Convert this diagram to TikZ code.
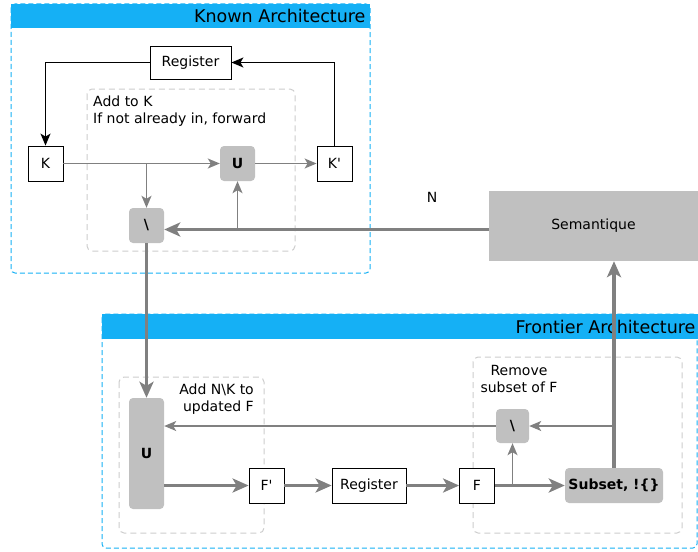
\documentclass[tikz,border=0pt]{standalone}
\usepackage{fontspec}
\setmainfont{DejaVu Sans}
\usetikzlibrary{positioning}
\usetikzlibrary{arrows.meta}
\definecolor{headblue}{RGB}{21,176,245}
\definecolor{opgray}{RGB}{192,192,192}
\definecolor{linegray}{RGB}{128,128,128}
\definecolor{zonegray}{RGB}{205,205,205}

\begin{document}
\begin{tikzpicture}[x=1pt, y=-1pt, font=\fontsize{14}{17}\selectfont,
	reg/.style={draw=black, fill=white, line width=0.8pt, minimum width=35pt, minimum height=35pt, inner sep=0pt},
	op/.style={fill=opgray, rounded corners=4pt, minimum width=35pt, minimum height=35pt, inner sep=0pt, font=\fontsize{14}{17}\selectfont\bfseries},
	zone/.style={draw=zonegray, line width=1pt, dash pattern=on 6pt off 4pt, rounded corners=5pt},
	frame/.style={draw=headblue, line width=1pt, dash pattern=on 5pt off 3pt, rounded corners=4pt},
	thinarr/.style={draw=linegray, line width=1.4pt, -{Stealth[length=12pt, width=10pt, inset=3pt]}},
	thickarr/.style={draw=linegray, line width=3.5pt, -{Stealth[length=16pt, width=14pt, inset=4pt]}},
	blackarr/.style={draw=black, line width=1.3pt, -{Stealth[length=12pt, width=10pt, inset=3pt]}}]
	\useasboundingbox (0,0) rectangle (698,551);
			    		% known architecture
			    		\draw[frame] (11,4) rectangle (370,273);
			    		\fill[headblue] (11,4) rectangle (370,28);
			    		\node[anchor=east, font=\fontsize{17.5}{20}\selectfont] (ktitle) at (369,16) {Known Architecture};
			    		\draw[zone] (87,89) rectangle (295,251);
			    		\node[anchor=north west, align=left, inner sep=0pt] (addk) at (93,96) {Add to K\\If not already in, forward};
			    		\node[reg, minimum width=81pt, minimum height=33pt] (kreg) at (190.5,62.5) {Register};
			    		\node[reg] (K) at (45.5,163.5) {K};
			    		\node[reg] (Kp) at (334.5,163.5) {K\textquotesingle};
			    		\node[op] (kunion) at (237.5,163.5) {U};
			    		\node[op] (kminus) at (146.5,225.5) {\textbackslash};
			    		\node[fill=opgray, minimum width=209pt, minimum height=70pt, inner sep=0pt] (sem) at (593.5,226) {Semantique};
			    		\node (nlabel) at (432,197) {N};
			    		% frontier architecture
			    		\draw[frame] (102,314) rectangle (697,548);
			    		\fill[headblue] (102,314) rectangle (698,339);
			    		\node[anchor=east, font=\fontsize{17.5}{20}\selectfont] (ftitle) at (699,327) {Frontier Architecture};
			    		\draw[zone] (119,377) rectangle (264,533);
			    		\draw[zone] (473,357) rectangle (682,533);
			    		\node[anchor=north east, align=right, inner sep=0pt] (addn) at (254,384) {Add N\textbackslash K to\\updated F};
			    		\node[anchor=north, align=center, inner sep=0pt] (remove) at (519,365) {Remove\\subset of F};
			    		\node[op, minimum height=111pt] (funion) at (146.5,453.5) {U};
			    		\node[reg] (Fp) at (266.5,485.5) {F\textquotesingle};
			    		\node[reg, minimum width=74pt] (freg) at (369,485.5) {Register};
			    		\node[reg] (F) at (477,485.5) {F};
			    		\node[op, minimum width=98pt] (subset) at (614,485.5) {Subset, !\{\}};
			    		\node[op, minimum width=33pt, minimum height=34pt] (fminus) at (512.5,426) {\textbackslash};
			    		% known connectors
			    		\draw[blackarr] (Kp.north) |- (kreg.east);
			    		\draw[blackarr] (kreg.west) -| (K.north);
			    		\draw[thinarr] (K.east) -- (kunion.west);
			    		\draw[thinarr] (kunion.east) -- (Kp.west);
			    		\coordinate (kfork) at (kminus.north |- K.east);
			    		\draw[thinarr] (kfork) -- (kminus.north);
			    		\coordinate (nline) at (489,229.5);
			    		\draw[thickarr] (nline) -- (nline -| kminus.east);
			    		\coordinate (ufork) at (kunion.south |- nline);
			    		\draw[thinarr] (ufork) -- (kunion.south);
			    		\draw[thickarr] (kminus.south) -- (funion.north);
			    		% frontier connectors
			    		\draw[thickarr] (Fp.west -| funion.east) -- (Fp.west);
			    		\draw[thickarr] (Fp.east) -- (freg.west);
			    		\draw[thickarr] (freg.east) -- (F.west);
			    		\draw[thickarr] (F.east) -- (subset.west);
			    		\coordinate (ffork) at (fminus.south |- F.east);
			    		\draw[thinarr] (ffork) -- (fminus.south);
			    		\draw[thickarr] (subset.north) -- (subset.north |- sem.south);
			    		\coordinate (sfork) at (subset.north |- fminus.east);
			    		\draw[thinarr] (sfork) -- (fminus.east);
			    		\draw[thinarr] (fminus.west) -- (fminus.west -| funion.east);
			    	\end{tikzpicture}
\end{document}
